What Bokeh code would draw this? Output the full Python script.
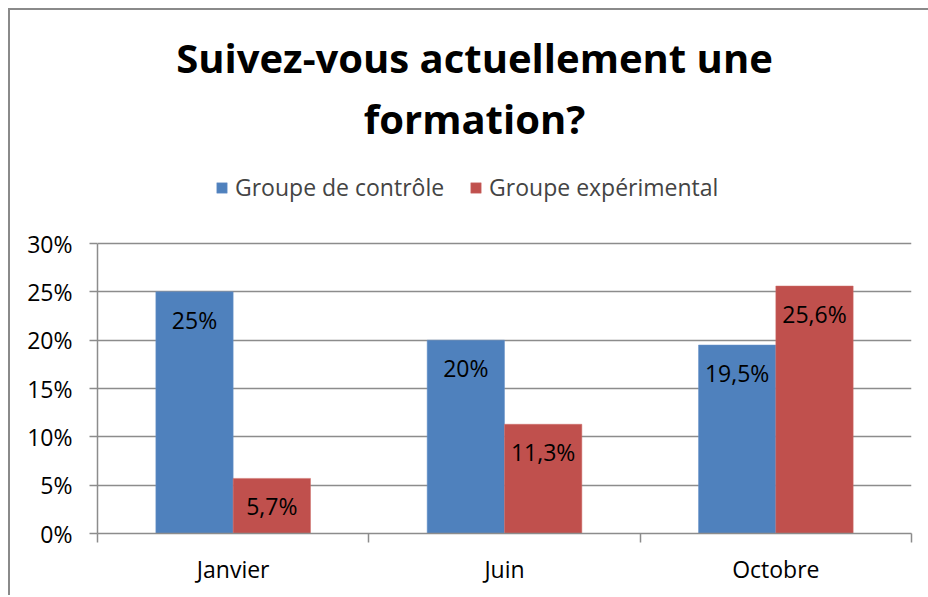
from bokeh.plotting import figure
from bokeh.models import (ColumnDataSource, FixedTicker, LinearAxis, Range1d, Label,
                          LabelSet, Legend, LegendItem, NumeralTickFormatter, Grid)
from bokeh.core.properties import value
from bokeh.embed import file_html
from bokeh.resources import INLINE

# ---- data ----
title_lines = ["Suivez-vous actuellement une", "formation?"]
categories = ["Janvier", "Juin", "Octobre"]
series_names = ["Groupe de contrôle", "Groupe expérimental"]
controle = [0.25, 0.20, 0.195]
experimental = [0.057, 0.113, 0.256]
y_ticks = [0.0, 0.05, 0.10, 0.15, 0.20, 0.25, 0.30]

FONT = "Open Sans"
FS = "23px"
BLUE = "#4F81BD"
RED = "#C0504D"
GRID = "#8C8C8C"

def fmt(v):
    s = f"{v*100:.1f}".rstrip("0").rstrip(".")
    return s.replace(".", ",") + "%"

n = len(categories)
centers = [i + 0.5 for i in range(n)]
bw = 0.285
off = bw / 2

src_c = ColumnDataSource(dict(x=[c - off for c in centers], top=controle,
                              lab=[fmt(v) for v in controle]))
src_e = ColumnDataSource(dict(x=[c + off for c in centers], top=experimental,
                              lab=[fmt(v) for v in experimental]))

# the plot frame reaches the top of the canvas so that title and legend live inside it;
# axis and grid are bounded to 0..30 %
y_axis_max = y_ticks[-1]
y_view_max = y_axis_max * (533 - 10) / (533 - 243)

p = figure(width=921, height=587, output_backend="svg", toolbar_location=None,
           x_range=Range1d(0, n), y_range=Range1d(0, y_view_max),
           min_border_left=87, min_border_right=20, min_border_top=0, min_border_bottom=64,
           x_axis_type=None, y_axis_type=None,
           styles={"margin-left": "10px", "margin-top": "10px",
                   "box-shadow": "-2px -2px 0 0 #8A8A8A"})
p.outline_line_color = None
p.background_fill_color = None
p.border_fill_color = None

# y axis
yax = LinearAxis(ticker=FixedTicker(ticks=y_ticks, minor_ticks=[]),
                 formatter=NumeralTickFormatter(format="0%"), bounds=(0, y_axis_max))
yax.axis_line_color = GRID
yax.axis_line_width = 1.5
yax.major_tick_line_color = GRID
yax.major_tick_line_width = 1.5
yax.major_tick_in = 0
yax.major_tick_out = 8
yax.minor_tick_line_color = None
yax.major_label_standoff = 17
yax.major_label_text_font = FONT
yax.major_label_text_font_size = FS
yax.major_label_text_color = "black"
p.add_layout(yax, "left")

# x axis: labels at centers, tick marks at category boundaries
xax = LinearAxis(ticker=FixedTicker(ticks=centers, minor_ticks=list(range(n + 1))))
xax.major_label_overrides = {c: name for c, name in zip(centers, categories)}
xax.axis_line_color = GRID
xax.axis_line_width = 1.5
xax.major_tick_line_color = None
xax.major_tick_in = 0
xax.major_tick_out = 0
xax.minor_tick_line_color = GRID
xax.minor_tick_line_width = 1.5
xax.minor_tick_in = 0
xax.minor_tick_out = 9
xax.major_label_standoff = 10
xax.major_label_text_font = FONT
xax.major_label_text_font_size = FS
xax.major_label_text_color = "black"
p.add_layout(xax, "below")

g = Grid(dimension=1, ticker=FixedTicker(ticks=y_ticks[1:]))
g.grid_line_color = GRID
g.grid_line_width = 1.5
p.add_layout(g)

r1 = p.vbar(x="x", top="top", width=bw, source=src_c, fill_color=BLUE,
            line_color="#6A93C8", line_width=0.5)
r2 = p.vbar(x="x", top="top", width=bw, source=src_e, fill_color=RED,
            line_color="#CC6C69", line_width=0.5)

for src in (src_c, src_e):
    p.add_layout(LabelSet(x="x", y="top", text="lab", source=src, y_offset=-28,
                          text_align="center", text_baseline="middle",
                          text_font=value(FONT), text_font_size=FS, text_color="black"))

# title (screen units relative to the plot frame's bottom-left)
for txt, yy in zip(title_lines, [476, 415]):
    p.add_layout(Label(x=377, y=yy, x_units="screen", y_units="screen", text=txt,
                       text_align="center", text_baseline="alphabetic",
                       text_font=FONT, text_font_size="40px", text_font_style="bold",
                       text_color="black"))

legend = Legend(items=[LegendItem(label=series_names[0], renderers=[r1]),
                       LegendItem(label=series_names[1], renderers=[r2])],
                orientation="horizontal", location=(118, 330),
                label_text_font=FONT, label_text_font_size=FS,
                glyph_width=13, glyph_height=13, label_standoff=7, spacing=25,
                padding=0, margin=0, border_line_color=None, background_fill_alpha=0)
p.add_layout(legend, "center")

open("out.html", "w").write(file_html(p, INLINE))
